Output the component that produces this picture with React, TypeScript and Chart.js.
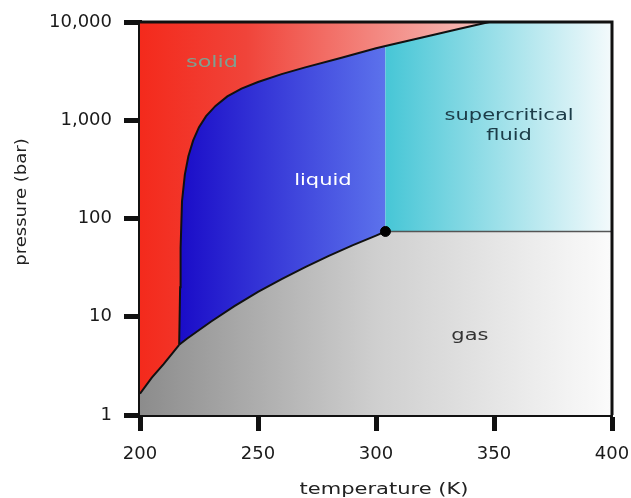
import React, { useEffect, useRef } from "react";
import { Chart, registerables } from "chart.js";

Chart.register(...registerables);

// Phase boundary data (temperature K, pressure bar)
const sublimationT = [200, 205, 210, 216.6];
const sublimationP = [1.65, 2.4, 3.3, 5.18];

const meltingT = [216.6, 217.0, 217.2, 217.8, 219.0, 220.5, 222.5, 225, 228, 232, 237, 243, 250, 260, 270, 285, 300, 304, 320, 335, 348];
const meltingP = [5.18, 20, 50, 150, 280, 430, 620, 850, 1100, 1400, 1750, 2100, 2450, 2950, 3450, 4300, 5400, 5700, 7000, 8500, 10000];

const vaporT = [216.6, 220, 230, 240, 250, 260, 270, 280, 290, 300, 304];
const vaporP = [5.18, 6.0, 8.9, 12.8, 17.9, 24.2, 32, 41.6, 53.2, 67, 73.8];

const criticalT = 304;
const criticalP = 73.8;

const xTicks = [200, 250, 300, 350, 400];
const yTicks = [1, 10, 100, 1000, 10000];
const yTickLabels = ["1", "10", "100", "1,000", "10,000"];

const regionLabels = [
  { text: "solid", t: 230.5, p: 3800, color: "#7fa090", size: 16 },
  { text: "liquid", t: 277.5, p: 240, color: "#ffffff", size: 15 },
  { text: "supercritical", t: 356.4, p: 1100, color: "#1c3c48", size: 15 },
  { text: "fluid", t: 356.4, p: 690, color: "#1c3c48", size: 15 },
  { text: "gas", t: 339.8, p: 6.3, color: "#333333", size: 15 },
];

const pts = (T: number[], P: number[]) => T.map((t, i) => ({ x: t, y: P[i] }));

const STRETCH = 1.4;

function stretchedText(ctx: any, text: string, x: number, y: number) {
  ctx.save();
  ctx.translate(x, y);
  ctx.scale(STRETCH, 1);
  ctx.fillText(text, 0, 0);
  ctx.restore();
}

function App() {
  const ref = useRef<HTMLCanvasElement | null>(null);

  useEffect(() => {
    if (!ref.current) return;
    const subl = pts(sublimationT, sublimationP);
    const melt = pts(meltingT, meltingP);
    const vap = pts(vaporT, vaporP);
    const meltBelowTc = melt.filter((p) => p.x <= criticalT);
    const meltAboveTc = melt.filter((p) => p.x >= criticalT);

    const solidPoly = [{ x: 200, y: 10000 }, ...subl, ...melt.slice(1)];
    const liquidPoly = [...meltBelowTc, { x: criticalT, y: criticalP }, ...vap.slice().reverse()];
    const superPoly = [{ x: criticalT, y: criticalP }, ...meltAboveTc, { x: 400, y: 10000 }, { x: 400, y: criticalP }];
    const gasPoly = [{ x: 200, y: 1 }, ...subl, ...vap.slice(1), { x: 400, y: criticalP }, { x: 400, y: 1 }];

    const grad = (stops: [number, string][], t0: number, t1: number) => (ctx: any) => {
      const chart = ctx.chart;
      const xs = chart.scales.x;
      if (!chart.chartArea || !xs) return stops[0][1];
      const g = chart.ctx.createLinearGradient(xs.getPixelForValue(t0), 0, xs.getPixelForValue(t1), 0);
      stops.forEach(([o, c]) => g.addColorStop(o, c));
      return g;
    };

    const region = (data: any[], bg: any) => ({
      data,
      fill: "shape",
      backgroundColor: bg,
      borderWidth: 0,
      borderColor: "rgba(0,0,0,0)",
      pointRadius: 0,
      tension: 0,
    });

    const line = (data: any[], color: string, width: number) => ({
      data,
      fill: false,
      borderColor: color,
      borderWidth: width,
      pointRadius: 0,
      tension: 0,
    });

    const framePlugin = {
      id: "frame",
      afterDatasetsDraw(chart: any) {
        const { ctx, chartArea: a, scales } = chart;
        ctx.save();
        ctx.strokeStyle = "#111";
        ctx.lineWidth = 3;
        ctx.beginPath();
        ctx.moveTo(a.left, a.top);
        ctx.lineTo(a.right, a.top);
        ctx.lineTo(a.right, a.bottom);
        ctx.stroke();
        ctx.textAlign = "center";
        ctx.textBaseline = "middle";
        regionLabels.forEach((l) => {
          ctx.font = `${l.size}px 'DejaVu Sans'`;
          ctx.fillStyle = l.color;
          stretchedText(ctx, l.text, scales.x.getPixelForValue(l.t), scales.y.getPixelForValue(l.p));
        });
        ctx.restore();
      },
      afterDraw(chart: any) {
        const { ctx } = chart;
        ctx.save();
        ctx.fillStyle = "#222";
        ctx.font = "15px 'DejaVu Sans'";
        ctx.textAlign = "center";
        ctx.textBaseline = "middle";
        stretchedText(ctx, "temperature (K)", 384, 490);
        ctx.save();
        ctx.translate(22, 202);
        ctx.rotate(-Math.PI / 2);
        ctx.scale(1.2, 1);
        ctx.fillText("pressure (bar)", 0, 0);
        ctx.restore();
        ctx.restore();
      },
    };

    // Chart.js draws the first dataset on top, so marks come before regions.
    const chart = new Chart(ref.current, {
      type: "line",
      data: {
        datasets: [
          {
            data: [{ x: criticalT, y: criticalP }],
            showLine: false,
            pointRadius: 5,
            pointBackgroundColor: "#000",
            pointBorderColor: "#000",
            borderColor: "#000",
          },
          line(subl, "#111", 2),
          line(melt, "#111", 2),
          line(vap, "#111", 2),
          line([{ x: criticalT, y: criticalP }, { x: 400, y: criticalP }], "#555", 1.5),
          region(superPoly, grad([[0, "#46c6d6"], [1, "#f4fafc"]], 304, 400)),
          region(liquidPoly, grad([[0, "#1a0cc8"], [1, "#5c72ec"]], 216.6, 304)),
          region(solidPoly, grad([[0, "#f42a1c"], [0.3, "#f0443a"], [1, "#f6c4c0"]], 200, 350)),
          region(gasPoly, grad([[0, "#8c8c8c"], [0.5, "#cfcfcf"], [1, "#fbfbfb"]], 200, 400)),
        ] as any,
      },
      options: {
        animation: false,
        responsive: false,
        maintainAspectRatio: false,
        layout: { padding: { left: 0, right: 19, top: 22, bottom: 0 } },
        plugins: { legend: { display: false }, tooltip: { enabled: false } },
        scales: {
          x: {
            type: "linear",
            min: 200,
            max: 400,
            afterBuildTicks: (s: any) => {
              s.ticks = xTicks.map((v) => ({ value: v }));
            },
            afterFit: (s: any) => {
              s.height = 83;
              s.paddingLeft = 0;
              s.paddingRight = 0;
            },
            ticks: { color: "#1a1a1a", font: { family: "DejaVu Sans", size: 18 }, padding: 13, maxRotation: 0 },
            grid: { drawOnChartArea: false, drawTicks: true, tickLength: 16, tickWidth: 5, tickColor: "#111" },
            border: { display: true, color: "#111", width: 4 },
          },
          y: {
            type: "logarithmic",
            min: 1,
            max: 10000,
            afterBuildTicks: (s: any) => {
              s.ticks = yTicks.map((v) => ({ value: v }));
            },
            afterFit: (s: any) => {
              s.width = 140;
              s.paddingTop = 0;
              s.paddingBottom = 0;
            },
            ticks: {
              color: "#1a1a1a",
              font: { family: "DejaVu Sans", size: 18 },
              padding: 12,
              callback: (v: any) => {
                const i = yTicks.indexOf(Number(v));
                return i >= 0 ? yTickLabels[i] : "";
              },
            },
            grid: { drawOnChartArea: false, drawTicks: true, tickLength: 16, tickWidth: 5, tickColor: "#111" },
            border: { display: true, color: "#111", width: 4 },
          },
        },
      } as any,
      plugins: [framePlugin],
    });
    return () => chart.destroy();
  }, []);

  return (
    <div style={{ position: "fixed", left: 0, top: 0, width: 631, height: 498, background: "#fff" }}>
      <canvas ref={ref} width={631} height={498} style={{ width: 631, height: 498 }} />
    </div>
  );
}

export default App;
